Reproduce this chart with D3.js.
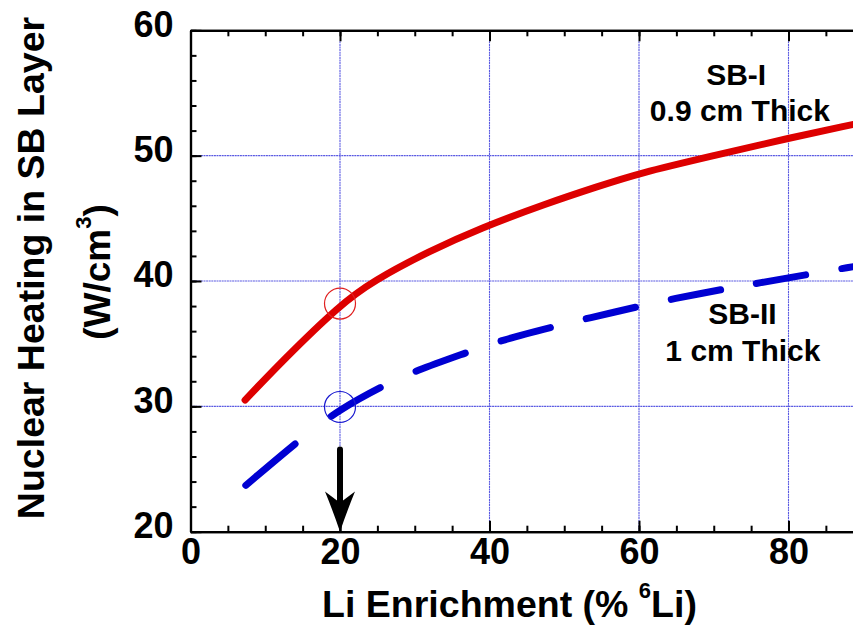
<!DOCTYPE html>
<html>
<head>
<meta charset="utf-8">
<script src="https://cdn.jsdelivr.net/npm/d3@7"></script>
<style>
  body { margin: 0; background: #fff; }
  svg text { font-family: "Liberation Sans", Arial, sans-serif; font-weight: bold; fill: #000; }
</style>
</head>
<body>
<svg id="chart" width="853" height="627"></svg>
<script>
// values (x = % 6Li, y = W/cm3)
var sb1_x = [7.3, 12.4, 20, 24.4, 32, 38.7, 47.7, 54.3, 60, 70, 80, 88.7]
var sb1_y = [30.5, 33.7, 38.1, 40.0, 42.4, 44.2, 46.2, 47.5, 48.6, 50.0, 51.4, 52.5]

var sb2_x = [7.4, 14.9, 20, 26.3, 29.9, 37.5, 41.4, 49.3, 52.9, 60.6, 64.3, 71.7, 75.7, 83.3, 88.7]
var sb2_y = [23.7, 27.5, 29.8, 31.8, 32.8, 34.4, 35.25, 36.45, 37.0, 38.05, 38.55, 39.4, 39.8, 40.6, 41.15]

var x_ticks = [0, 20, 40, 60, 80, 100]
var y_ticks = [20, 30, 40, 50, 60]
var x_grid = [20, 40, 60, 80]
var y_grid = [30, 40, 50]

// the chosen point: 20 % enrichment
var marked_x = 20
var marked_y = [38.2, 29.95]

var svg = d3.select("#chart")

var x = d3.scaleLinear().domain([0, 100]).range([190.5, 938])
var y = d3.scaleLinear().domain([20, 60]).range([531.7, 30.3])

function minor(from, to, step) {
    var out = []
    for (var v = from; v <= to + 1e-9; v += step) out.push(v)
    return out
}

// grid
var grid = svg.append("g").attr("class", "grid")
grid.selectAll("line.gx").data(x_grid).enter().append("line")
    .attr("x1", d => x(d)).attr("x2", d => x(d))
    .attr("y1", y(60) + 11).attr("y2", y(20))
    .attr("stroke", "#5a5ae2").attr("stroke-width", 1.1).attr("stroke-dasharray", "2,0.6")
grid.selectAll("line.gy").data(y_grid).enter().append("line")
    .attr("x1", x(0)).attr("x2", x(100))
    .attr("y1", d => y(d)).attr("y2", d => y(d))
    .attr("stroke", "#5a5ae2").attr("stroke-width", 1.1).attr("stroke-dasharray", "2,0.6")

// axes, ticks pointing inward
function style_axis(g) {
    g.select(".domain").attr("stroke", "#000").attr("stroke-width", 2.2)
    g.selectAll(".tick line").attr("stroke", "#000").attr("stroke-width", 2)
    g.selectAll(".tick text").style("font-size", "36px")
}
// minor ticks only, no labels
function bare(g) {
    style_axis(g)
    g.selectAll(".tick text").remove()
}

svg.append("g").attr("transform", "translate(0," + y(20) + ")")
    .call(d3.axisBottom(x).tickValues(minor(0, 100, 5)).tickSizeInner(-6).tickSizeOuter(0))
    .call(bare)
var xax = svg.append("g").attr("transform", "translate(0," + y(20) + ")")
    .call(d3.axisBottom(x).tickValues(x_ticks).tickSizeInner(-11).tickSizeOuter(0).tickPadding(7).tickFormat(d3.format("d")))
    .call(style_axis)
// 100 falls outside the picture
xax.selectAll(".tick").filter(d => x(d) > 853).select("text").remove()

svg.append("g").attr("transform", "translate(0," + y(60) + ")")
    .call(d3.axisTop(x).tickValues(minor(0, 100, 5)).tickSizeInner(-6).tickSizeOuter(0))
    .call(bare)
svg.append("g").attr("transform", "translate(0," + y(60) + ")")
    .call(d3.axisTop(x).tickValues(x_ticks).tickSizeInner(-11).tickSizeOuter(0))
    .call(bare)

svg.append("g").attr("transform", "translate(" + x(0) + ",0)")
    .call(d3.axisLeft(y).tickValues(minor(20, 60, 2)).tickSizeInner(-6).tickSizeOuter(0))
    .call(bare)
var yax = svg.append("g").attr("transform", "translate(" + x(0) + ",0)")
    .call(d3.axisLeft(y).tickValues(y_ticks).tickSizeInner(-11).tickSizeOuter(0).tickPadding(17).tickFormat(d3.format("d")))
    .call(style_axis)
yax.selectAll(".tick text").attr("dy", "0.16em")

svg.append("g").attr("transform", "translate(" + x(100) + ",0)")
    .call(d3.axisRight(y).tickValues(y_ticks).tickSizeInner(-11).tickSizeOuter(0))
    .call(bare)

// curves
var line = d3.line().x(d => x(d[0])).y(d => y(d[1])).curve(d3.curveBasis)

svg.append("path")
    .datum(d3.zip(sb1_x, sb1_y))
    .attr("d", line)
    .attr("fill", "none").attr("stroke", "#dd0000")
    .attr("stroke-width", 7).attr("stroke-linecap", "round")

var blue = svg.append("path")
    .datum(d3.zip(sb2_x, sb2_y))
    .attr("d", line)
    .attr("fill", "none").attr("stroke", "#0000d2")
    .attr("stroke-width", 7).attr("stroke-linecap", "round")

// the dashes in the original repeat evenly along x, not along the curve,
// so walk the path and turn x-intervals into a dasharray
function x_dashes(path, period, on) {
    var node = path.node()
    var total = node.getTotalLength()
    var x0 = node.getPointAtLength(0).x
    var segs = [], last = 0, state = true
    for (var l = 0; l <= total; l += 0.25) {
        var p = node.getPointAtLength(l)
        var s = ((p.x - x0) % period) < on
        if (s !== state) {
            segs.push(l - last)
            last = l
            state = s
        }
    }
    segs.push(total - last + 10)
    if (segs.length % 2) segs.push(100)
    path.attr("stroke-dasharray", segs.map(v => v.toFixed(2)).join(","))
}
x_dashes(blue, 85.1, 49)

// circles round the 20 % points
svg.append("circle").attr("cx", x(marked_x)).attr("cy", y(marked_y[0])).attr("r", 15.5)
    .attr("fill", "none").attr("stroke", "#e02020").attr("stroke-width", 1.2)
svg.append("circle").attr("cx", x(marked_x)).attr("cy", y(marked_y[1])).attr("r", 15.5)
    .attr("fill", "none").attr("stroke", "#1a1ad0").attr("stroke-width", 1.2)

// arrow down to 20 %
var ax = x(marked_x)
svg.append("line").attr("x1", ax).attr("x2", ax)
    .attr("y1", y(26.55)).attr("y2", y(21.2))
    .attr("stroke", "#000").attr("stroke-width", 6).attr("stroke-linecap", "round")
var tip = y(20), barb = y(23.2), notch = y(22.3)
svg.append("path")
    .attr("d", "M" + ax + "," + tip +
        " Q" + (ax - 6) + "," + (tip - 18) + " " + (ax - 15) + "," + barb +
        " L" + ax + "," + notch +
        " L" + (ax + 15) + "," + barb +
        " Q" + (ax + 6) + "," + (tip - 18) + " " + ax + "," + tip + "Z")
    .attr("fill", "#000")

// labels on the curves
function note(t, cx, cy) {
    svg.append("text").attr("x", x(cx)).attr("y", y(cy))
        .attr("text-anchor", "middle").style("font-size", "30px").text(t)
}
note("SB-I", 73.0, 55.64)
note("0.9 cm Thick", 73.5, 52.76)
note("SB-II", 73.85, 36.58)
note("1 cm Thick", 73.9, 33.63)

// axis titles
var xt = svg.append("text").attr("x", 509.5).attr("y", 617)
    .attr("text-anchor", "middle").style("font-size", "37.5px")
xt.append("tspan").text("Li Enrichment (% ")
xt.append("tspan").attr("dy", -19).style("font-size", "22px").text("6")
xt.append("tspan").attr("dy", 19).text("Li)")

svg.append("text").attr("transform", "translate(44,268) rotate(-90)")
    .attr("text-anchor", "middle").style("font-size", "37.5px")
    .text("Nuclear Heating in SB Layer")
var yt = svg.append("text").attr("transform", "translate(110,272) rotate(-90)")
    .attr("text-anchor", "middle").style("font-size", "37px")
yt.append("tspan").text("(W/cm")
yt.append("tspan").attr("dy", -19).style("font-size", "22px").text("3")
yt.append("tspan").attr("dy", 19).text(")")
</script>
</body>
</html>
